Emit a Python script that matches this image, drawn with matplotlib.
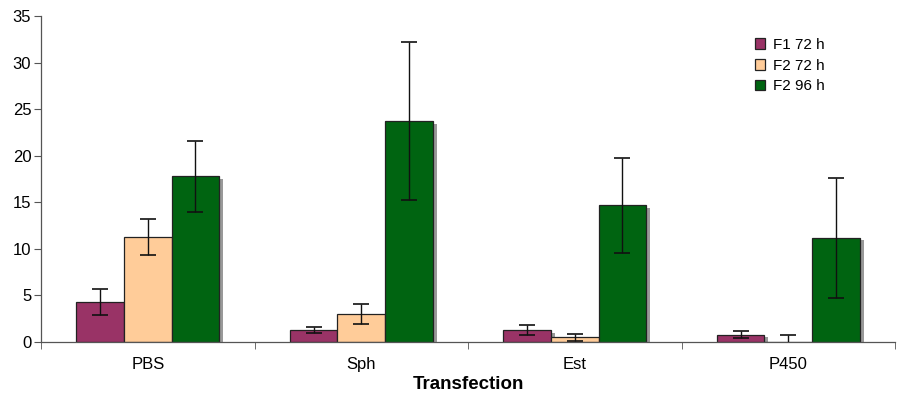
import matplotlib
matplotlib.use("Agg")
import matplotlib.pyplot as plt
import numpy as np

plt.rcParams['font.family'] = ['Liberation Sans', 'DejaVu Sans']

categories = ["PBS", "Sph", "Est", "P450"]
series_names = ["F1 72 h", "F2 72 h", "F2 96 h"]
f1_72 = [4.3, 1.3, 1.3, 0.8]
f1_72_err = [1.4, 0.35, 0.55, 0.35]
f2_72 = [11.3, 3.0, 0.5, 0.0]
f2_72_err = [1.95, 1.1, 0.4, 0.7]
f2_96 = [17.8, 23.7, 14.7, 11.2]
f2_96_err = [3.8, 8.5, 5.1, 6.45]
colors = ["#993366", "#FFCC99", "#006411"]

fig = plt.figure(figsize=(8.97, 3.94), dpi=100)
ax = fig.add_axes([41 / 897, 1 - 342 / 394, 854 / 897, 326 / 394])

x = np.arange(len(categories))
w = 0.223
offsets = [-w, 0, w]
data = [f1_72, f2_72, f2_96]
errs = [f1_72_err, f2_72_err, f2_96_err]

# shadows
for off, vals in zip(offsets, data):
    vals = np.array(vals)
    ax.bar(x + off + 0.018, np.clip(vals - 0.3, 0, None), w, color="#999999",
           edgecolor="none", zorder=1)

for off, vals, err, col, name in zip(offsets, data, errs, colors, series_names):
    ax.bar(x + off, vals, w, color=col, edgecolor="#222222", linewidth=0.9,
           label=name, zorder=2)
    ax.errorbar(x + off, vals, yerr=err, fmt="none", ecolor="#111111",
                elinewidth=1.0, capsize=6, capthick=1.2, zorder=3)

ax.set_xlim(-0.5, 3.5)
ax.set_ylim(0, 35)
ax.set_yticks(range(0, 36, 5))
ax.set_xticks(x)
ax.set_xticklabels(categories, fontsize=12)
ax.tick_params(axis='x', which='major', length=0, pad=11)
ax.set_xticks([-0.5, 0.5, 1.5, 2.5, 3.5], minor=True)
ax.tick_params(axis='x', which='minor', length=5, direction='out', color="#555555")
ax.tick_params(axis='y', labelsize=12, length=5, pad=2, color="#555555", direction='out')
for s in ["top", "right"]:
    ax.spines[s].set_visible(False)
for s in ["left", "bottom"]:
    ax.spines[s].set_color("#555555")
    ax.spines[s].set_linewidth(0.9)

ax.set_xlabel("Transfection", fontsize=13.5, fontweight="bold", labelpad=3)

leg = ax.legend(loc="upper left", bbox_to_anchor=(706 / 854, 0.957), frameon=False,
                fontsize=11, handlelength=0.7, handleheight=0.7,
                handletextpad=0.5, labelspacing=0.45, borderpad=0)

fig.savefig("out.png", dpi=100)
